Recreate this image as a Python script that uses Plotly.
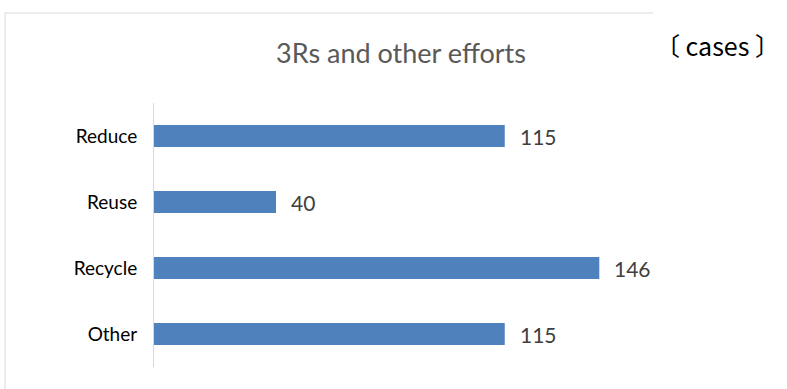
import plotly.graph_objects as go

categories = ["Reduce", "Reuse", "Recycle", "Other"]
values = [115, 40, 146, 115]
title_text = "3Rs and other efforts"
unit_text = "〔\u00a0cases\u00a0〕"

bar_color = "#4f81bd"
font_main = "Lato, Carlito, Calibri, sans-serif"

fig = go.Figure()
fig.add_trace(go.Bar(
    y=categories, x=values, orientation="h",
    marker=dict(color=bar_color, line=dict(width=0)),
    hoverinfo="skip",
))

for c, v in zip(categories, values):
    fig.add_annotation(x=v, y=c, xref="x", yref="y", text=str(v),
                       showarrow=False, xanchor="left", yanchor="middle",
                       xshift=13, font=dict(family=font_main, size=21, color="#404040"))

L, R, T, B = 154, 145, 103, 22
W, H = 787 - L - R, 389 - T - B

px = lambda x: (x - L) / W
py = lambda y: 1 - (y - T) / H

border = dict(color="#d9d9d9", width=1)
fig.add_shape(type="line", xref="paper", yref="paper",
              x0=px(5), x1=px(653), y0=py(13), y1=py(13), line=border)
fig.add_shape(type="line", xref="paper", yref="paper",
              x0=px(5), x1=px(5), y0=py(13), y1=py(400), line=border)

fig.add_annotation(xref="paper", yref="paper", x=px(717), y=py(45),
                   text=unit_text, showarrow=False, xanchor="center", yanchor="middle",
                   font=dict(family="Noto Sans CJK JP, sans-serif", size=25, color="#000000"))

fig.update_layout(
    width=787, height=389,
    margin=dict(l=L, r=R, t=T, b=B),
    paper_bgcolor="white", plot_bgcolor="white",
    showlegend=False,
    bargap=0.667,
    title=dict(text=title_text, x=401 / 787, xanchor="center", xref="container",
               y=1 - 54 / 389, yanchor="middle", yref="container",
               font=dict(family=font_main, size=27, color="#595959")),
    xaxis=dict(range=[0, 160], visible=False, fixedrange=True),
    yaxis=dict(autorange="reversed", showline=True, linecolor="#d9d9d9", linewidth=1,
               showgrid=False, ticks="", ticklabelstandoff=12,
               tickfont=dict(family=font_main, size=19, color="#000000"), fixedrange=True),
)

fig.write_html("out.html", config={"displayModeBar": False})
